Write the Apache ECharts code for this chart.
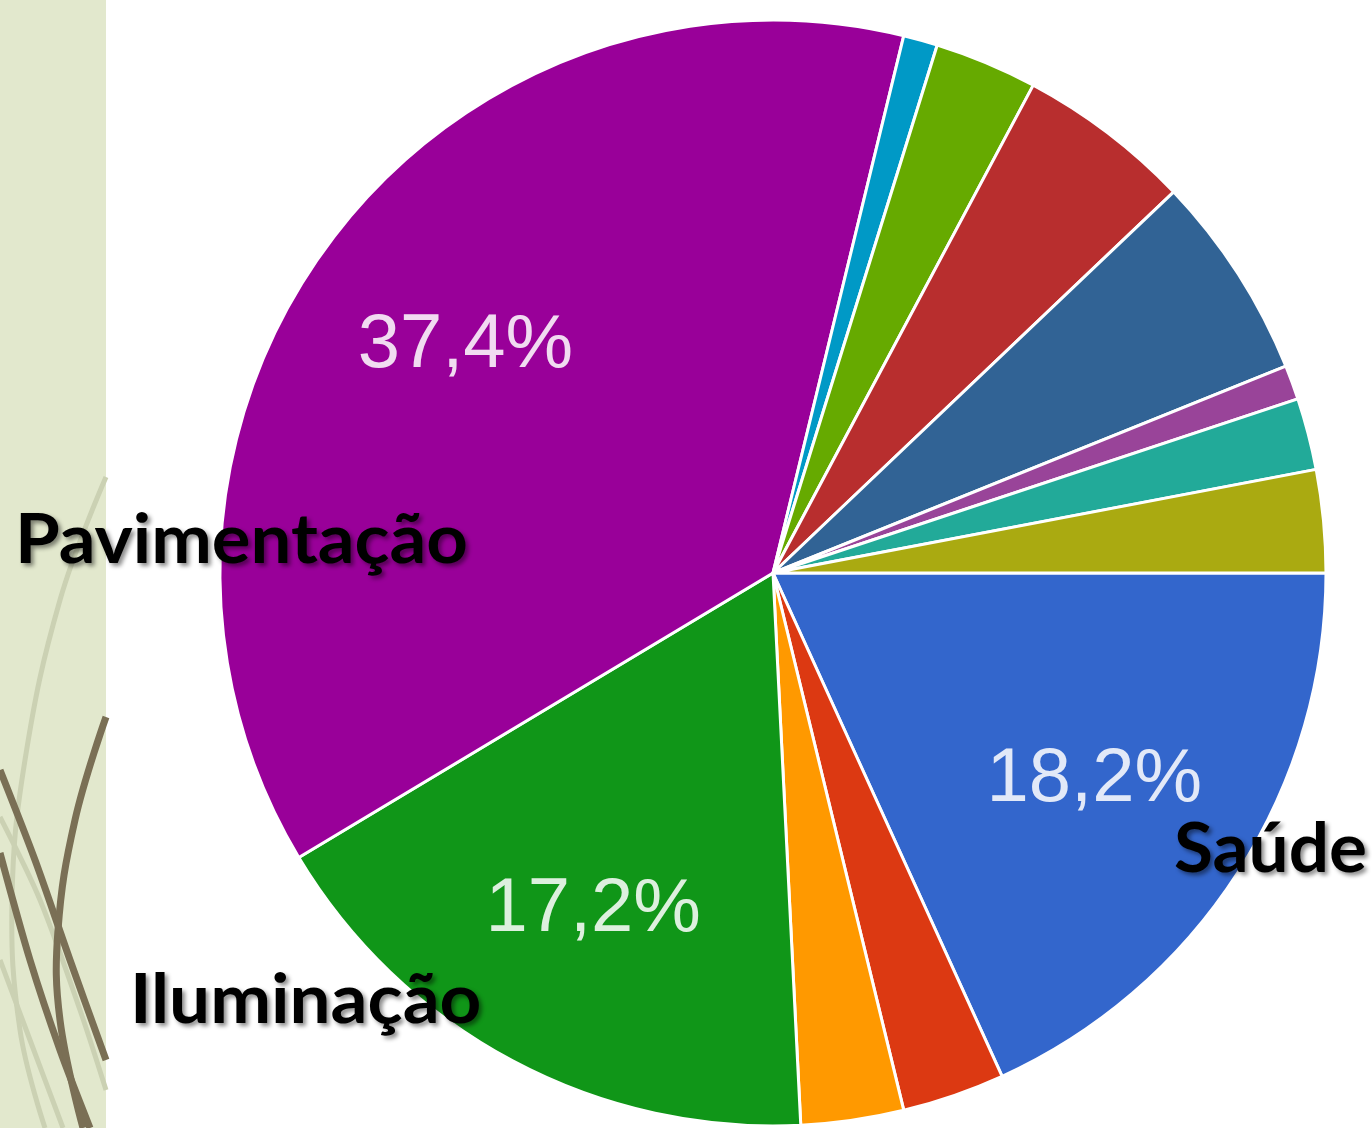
<!DOCTYPE html>
<html>
<head>
<meta charset="utf-8">
<script src="https://cdn.jsdelivr.net/npm/echarts@6/dist/echarts.min.js"></script>
<style>
  html, body { margin: 0; padding: 0; background: #fff; }
  #pie { width: 1372px; height: 1128px; }
</style>
</head>
<body>
<div id="pie"></div>
<script>
// categorias na ordem em que aparecem (sentido horário a partir das 3h)
const categories = ['Saúde', 'Categoria 2', 'Categoria 3', 'Iluminação', 'Pavimentação',
    'Categoria 6', 'Categoria 7', 'Categoria 8', 'Categoria 9', 'Categoria 10', 'Categoria 11', 'Categoria 12']
const values = [18.2, 3.0, 3.0, 17.2, 37.4, 1.0, 3.0, 5.1, 6.0, 1.0, 2.1, 3.0]
const colors = ['#3366cc', '#dc3912', '#ff9900', '#109618', '#990099', '#0099c6',
    '#66aa00', '#b82e2e', '#316395', '#994499', '#22aa99', '#aaaa11']
const bigLabels = ['Pavimentação', 'Iluminação', 'Saúde']

let chart = echarts.init(document.querySelector('#pie'))

let pieData = []
for (let i = 0; i < values.length; i++) {
    pieData.push({ name: categories[i], value: values[i], itemStyle: { color: colors[i] } })
}

let labelData = pieData.map(function (d) {
    return { name: d.name, value: d.value }
})

function pct(params) {
    if (params.value < 10) return ''
    return params.value.toFixed(1).replace('.', ',') + '%'
}

const titleFont = 'bold 68px Lato, "DejaVu Sans", sans-serif'
const shadow = { textShadowColor: 'rgba(0,0,0,0.45)', textShadowBlur: 4, textShadowOffsetX: 3, textShadowOffsetY: 3 }

// fundo decorativo da faixa lateral
const brown = '#7a6f55'
const pale = '#cbd1b3'
let deco = [
    { type: 'rect', shape: { x: 0, y: 0, width: 106, height: 1128 }, style: { fill: '#e2e8cd' }, z: -10 },
    { type: 'polyline', shape: { points: [[106, 477], [60, 600], [25, 760], [12, 900], [20, 1030], [45, 1128]], smooth: 0.4 },
      style: { stroke: pale, lineWidth: 5, fill: null }, z: -9 },
    { type: 'polyline', shape: { points: [[0, 817], [40, 900], [80, 1010], [106, 1090]], smooth: 0.3 },
      style: { stroke: pale, lineWidth: 5, fill: null }, z: -9 },
    { type: 'polyline', shape: { points: [[0, 960], [30, 1040], [63, 1128]], smooth: 0.3 },
      style: { stroke: pale, lineWidth: 5, fill: null }, z: -9 },
    { type: 'polyline', shape: { points: [[0, 770], [35, 860], [70, 960], [106, 1060]], smooth: 0.3 },
      style: { stroke: brown, lineWidth: 7, fill: null }, z: -8 },
    { type: 'polyline', shape: { points: [[0, 853], [30, 960], [60, 1050], [90, 1128]], smooth: 0.3 },
      style: { stroke: brown, lineWidth: 7, fill: null }, z: -8 },
    { type: 'polyline', shape: { points: [[106, 717], [75, 820], [58, 930], [60, 1020], [83, 1128]], smooth: 0.4 },
      style: { stroke: brown, lineWidth: 7, fill: null }, z: -8 }
]

let texts = [
    { type: 'text', x: 15, y: 541, z: 100, scaleX: 1.065,
      style: Object.assign({ text: bigLabels[0], font: titleFont, fill: '#000', align: 'left', verticalAlign: 'middle' }, shadow) },
    { type: 'text', x: 130, y: 1001, z: 100, scaleX: 1.07,
      style: Object.assign({ text: bigLabels[1], font: titleFont, fill: '#000', align: 'left', verticalAlign: 'middle' }, shadow) },
    { type: 'text', x: 1174, y: 850, z: 100, scaleX: 1.045,
      style: Object.assign({ text: bigLabels[2], font: titleFont, fill: '#000', align: 'left', verticalAlign: 'middle' }, shadow) }
]

let option = {
    backgroundColor: '#ffffff',
    animation: false,
    graphic: { elements: deco.concat(texts) },
    series: [
        {
            type: 'pie',
            center: [773, 573],
            radius: [0, 553],
            startAngle: 0,
            clockwise: true,
            avoidLabelOverlap: false,
            label: { show: false },
            labelLine: { show: false },
            itemStyle: { borderColor: '#ffffff', borderWidth: 3 },
            emphasis: { disabled: true },
            data: pieData
        },
        {
            type: 'pie',
            center: [773, 573],
            radius: [205, 553],
            startAngle: 0,
            clockwise: true,
            silent: true,
            avoidLabelOverlap: false,
            itemStyle: { color: 'rgba(0,0,0,0)', borderWidth: 0 },
            labelLine: { show: false },
            label: {
                show: true,
                position: 'inside',
                formatter: pct,
                fontFamily: '"Liberation Sans", Arial, sans-serif',
                fontSize: 76,
                color: 'rgba(255,255,255,0.86)'
            },
            data: labelData
        }
    ]
}

chart.setOption(option)
</script>
</body>
</html>
